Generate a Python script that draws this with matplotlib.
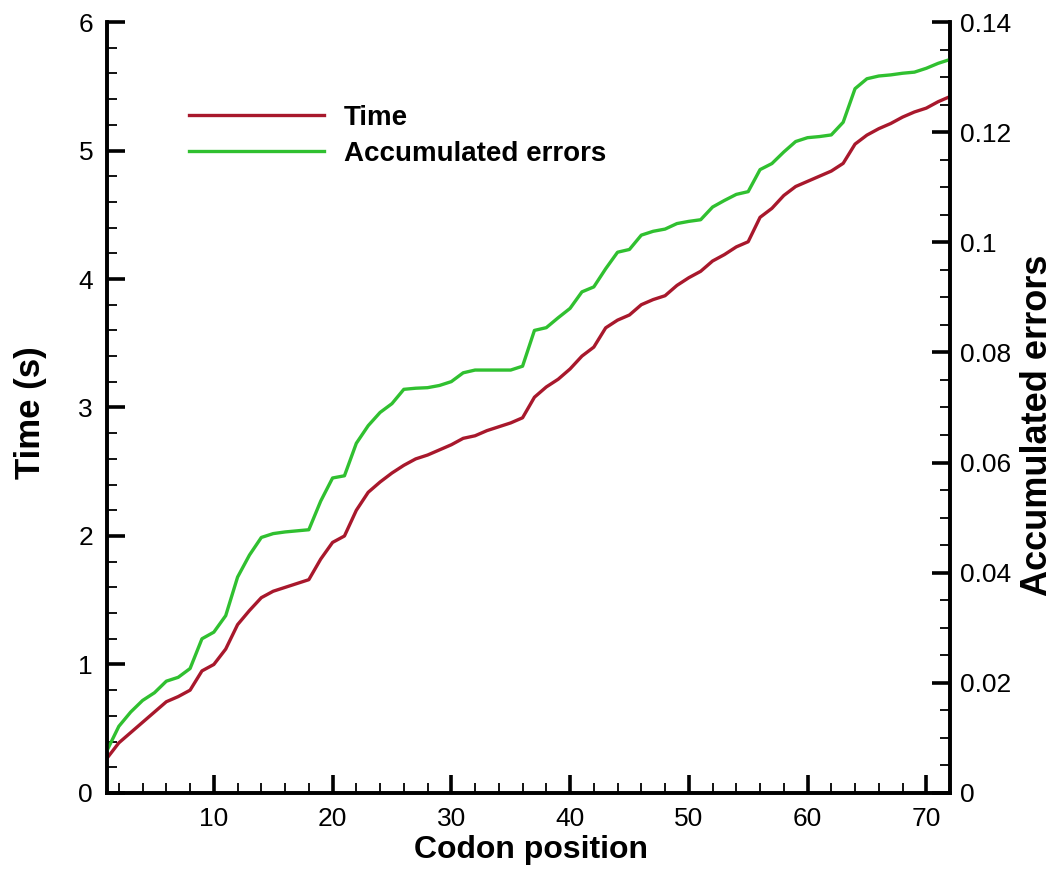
import matplotlib.pyplot as plt
from matplotlib.ticker import MultipleLocator

# Codon positions 1..72
codon = list(range(1, 73))

# Time (s), left axis
time_s = [0.27, 0.39, 0.47, 0.55, 0.63, 0.71, 0.75, 0.80, 0.95, 1.00,
          1.12, 1.31, 1.42, 1.52, 1.57, 1.60, 1.63, 1.66, 1.82, 1.95,
          2.00, 2.20, 2.34, 2.42, 2.49, 2.55, 2.60, 2.63, 2.67, 2.71,
          2.76, 2.78, 2.82, 2.85, 2.88, 2.92, 3.08, 3.16, 3.22, 3.30,
          3.40, 3.47, 3.62, 3.68, 3.72, 3.80, 3.84, 3.87, 3.95, 4.01,
          4.06, 4.14, 4.19, 4.25, 4.29, 4.48, 4.55, 4.65, 4.72, 4.76,
          4.80, 4.84, 4.90, 5.05, 5.12, 5.17, 5.21, 5.26, 5.30, 5.33,
          5.38, 5.42]

# Accumulated errors, right axis
acc_err = [0.0077, 0.0121, 0.0147, 0.0168, 0.0182, 0.0203, 0.0210, 0.0226, 0.0280, 0.0292,
           0.0322, 0.0392, 0.0432, 0.0464, 0.0471, 0.0474, 0.0476, 0.0478, 0.0530, 0.0572,
           0.0576, 0.0635, 0.0667, 0.0691, 0.0707, 0.0733, 0.0735, 0.0736, 0.0740, 0.0747,
           0.0763, 0.0768, 0.0768, 0.0768, 0.0768, 0.0775, 0.0840, 0.0845, 0.0863, 0.0880,
           0.0910, 0.0919, 0.0952, 0.0982, 0.0987, 0.1013, 0.1020, 0.1024, 0.1034, 0.1038,
           0.1041, 0.1064, 0.1076, 0.1087, 0.1092, 0.1132, 0.1143, 0.1164, 0.1183, 0.1190,
           0.1192, 0.1195, 0.1218, 0.1279, 0.1297, 0.1302, 0.1304, 0.1307, 0.1309, 0.1316,
           0.1325, 0.1332]

err_ticks = [0, 0.02, 0.04, 0.06, 0.08, 0.1, 0.12, 0.14]
err_labels = ['0', '0.02', '0.04', '0.06', '0.08', '0.1', '0.12', '0.14']

RED = '#a8182c'
GREEN = '#30c030'

plt.rcParams['font.family'] = ['Liberation Sans', 'DejaVu Sans']

fig = plt.figure(figsize=(10.57, 8.71), dpi=100)
ax = fig.add_axes([0.1012, 0.0896, 0.7976, 0.8851])
ax2 = ax.twinx()

l1, = ax.plot(codon, time_s, color=RED, lw=2.4, label='Time')
l2, = ax2.plot(codon, acc_err, color=GREEN, lw=2.4, label='Accumulated errors')

ax.set_xlim(1, 72)
ax.set_ylim(0, 6)
ax2.set_ylim(0, 0.14)

ax.xaxis.set_major_locator(MultipleLocator(10))
ax.xaxis.set_minor_locator(MultipleLocator(2))
ax.yaxis.set_major_locator(MultipleLocator(1))
ax.yaxis.set_minor_locator(MultipleLocator(0.2))
ax2.set_yticks(err_ticks)
ax2.set_yticklabels(err_labels)
ax2.yaxis.set_minor_locator(MultipleLocator(0.005))

for a in (ax, ax2):
    a.spines['top'].set_visible(False)
    for s in ('left', 'right', 'bottom'):
        a.spines[s].set_linewidth(2.6)
    a.tick_params(which='major', direction='in', length=13, width=2.6, labelsize=19, pad=10)
    a.tick_params(which='minor', direction='in', length=7, width=1.3)

ax.tick_params(axis='y', which='both', right=False)
ax.tick_params(axis='x', which='both', top=False)
ax2.tick_params(axis='y', which='both', left=False, pad=7)

ax.set_xlabel('Codon position', fontsize=23, fontweight='bold', va='center')
ax.xaxis.set_label_coords(0.503, -0.074)
ax.set_ylabel('Time (s)', fontsize=25, fontweight='bold', va='center')
ax.yaxis.set_label_coords(-0.091, 0.493)
ax2.set_ylabel('Accumulated errors', fontsize=26, fontweight='bold', va='center', rotation=90)
ax2.yaxis.set_label_coords(1.104, 0.477)

ax.legend(handles=[l1, l2], loc='upper left', bbox_to_anchor=(0.068, 0.925),
          frameon=False, handlelength=4.85, handletextpad=0.72,
          labelspacing=0.35, prop={'weight': 'bold', 'size': 20})

fig.savefig('out.png', dpi=100)
